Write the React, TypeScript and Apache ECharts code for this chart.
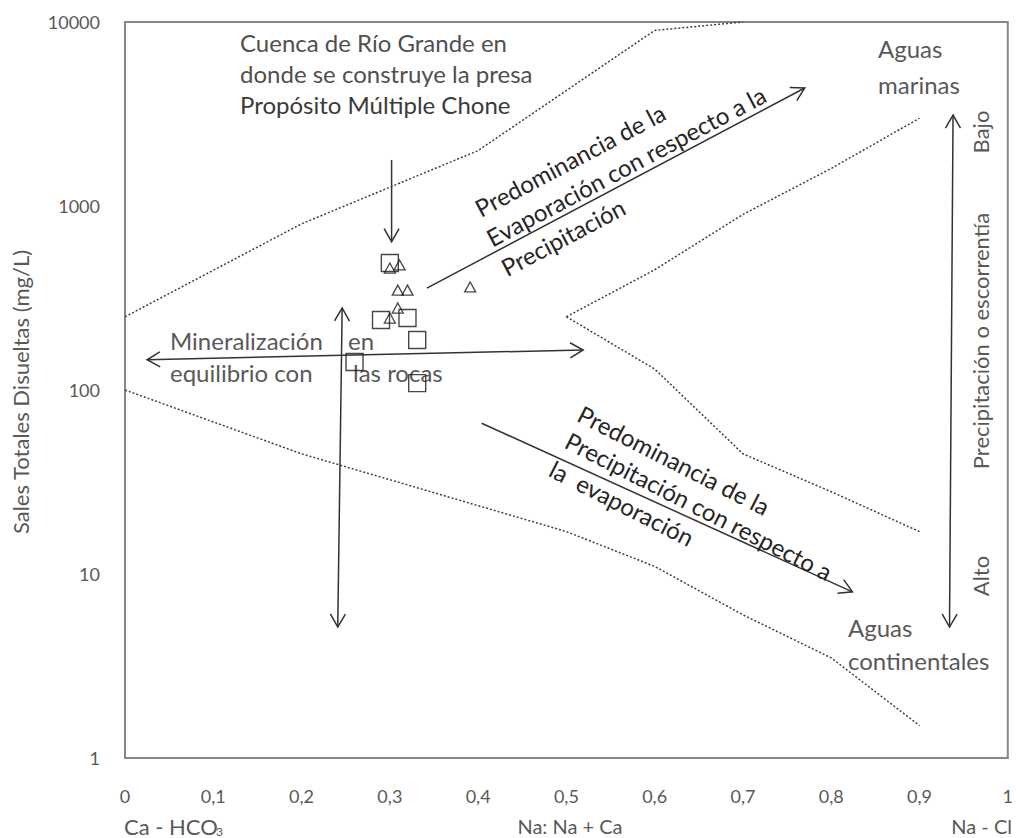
import React, { useEffect, useRef } from "react";
import * as echarts from "echarts";

// ---- data ----
const squareX = [0.3, 0.29, 0.32, 0.331, 0.26, 0.331];
const squareY = [490, 240, 246, 187, 142, 109];
const triX = [0.3, 0.311, 0.309, 0.32, 0.309, 0.3, 0.391];
const triY = [460, 478, 349, 349, 279, 246, 363];

const upperLeftX = [0, 0.2, 0.4, 0.6, 0.7];
const upperLeftY = [250, 800, 2000, 9000, 10000];
const upperRightX = [0.5, 0.6, 0.7, 0.8, 0.9];
const upperRightY = [250, 450, 900, 1600, 3000];
const lowerRightX = [0.5, 0.6, 0.7, 0.8, 0.9];
const lowerRightY = [250, 130, 45, 28, 17];
const lowerLeftX = [0, 0.2, 0.5, 0.6, 0.7, 0.8, 0.9];
const lowerLeftY = [100, 45, 17, 11, 6, 3.5, 1.5];

// annotation arrows in data coordinates
const arrowFromX = [0.302, 0.025, 0.246, 0.342, 0.404, 0.938];
const arrowFromY = [1780, 146, 279, 358, 66, 3120];
const arrowToX = [0.302, 0.519, 0.241, 0.77, 0.824, 0.934];
const arrowToY = [640, 165, 5.15, 4380, 8, 5.15];
const arrowBoth = [false, true, true, false, false, true];

const zip = (xs: number[], ys: number[]) => xs.map((x, i) => [x, ys[i]]);

const FONT = "Lato, 'Open Sans', sans-serif";
const GRAY = "#595959";
const DARK = "#262626";

export default function App() {
  const ref = useRef<HTMLDivElement>(null);
  useEffect(() => {
    if (!ref.current) return;
    const chart = echarts.init(ref.current, undefined, { renderer: "svg" });
    const dotted = {
      type: "line",
      symbol: "none",
      silent: true,
      lineStyle: { color: "#404040", width: 1.5, type: [2, 2] },
    };
    chart.setOption({
      animation: false,
      grid: {
        left: 125,
        top: 22,
        width: 883,
        height: 736,
        show: true,
        borderColor: "#868686",
        borderWidth: 2,
        containLabel: false,
      },
      xAxis: {
        type: "value",
        min: 0,
        max: 1,
        interval: 0.1,
        axisLine: { show: true, lineStyle: { color: "#868686", width: 2 } },
        axisTick: { show: false },
        splitLine: { show: false },
        axisLabel: {
          margin: 29,
          color: GRAY,
          fontSize: 18,
          fontFamily: FONT,
          formatter: (v: number) =>
            v === 0 ? "0" : v === 1 ? "1" : v.toFixed(1).replace(".", ","),
        },
      },
      yAxis: {
        type: "log",
        logBase: 10,
        min: 1,
        max: 10000,
        axisLine: { show: true, lineStyle: { color: "#868686", width: 2 } },
        axisTick: { show: false },
        splitLine: { show: false },
        axisLabel: {
          margin: 25,
          color: GRAY,
          fontSize: 18,
          fontFamily: FONT,
          formatter: (v: number) => String(Math.round(v)),
        },
      },
      series: [
        { ...dotted, data: zip(upperLeftX, upperLeftY) },
        { ...dotted, data: zip(upperRightX, upperRightY) },
        { ...dotted, data: zip(lowerRightX, lowerRightY) },
        { ...dotted, data: zip(lowerLeftX, lowerLeftY) },
        {
          type: "scatter",
          symbol: "rect",
          symbolSize: 17,
          itemStyle: { color: "rgba(0,0,0,0)", borderColor: "#1a1a1a", borderWidth: 1.4 },
          data: zip(squareX, squareY),
        },
        {
          type: "scatter",
          symbol: "triangle",
          symbolSize: [11, 10],
          itemStyle: { color: "rgba(0,0,0,0)", borderColor: "#1a1a1a", borderWidth: 1.3 },
          data: zip(triX, triY),
        },
      ],
    });

    const els: any[] = [];
    const head = (tip: number[], tail: number[], color: string) => {
      const dx = tip[0] - tail[0];
      const dy = tip[1] - tail[1];
      const len = Math.hypot(dx, dy);
      const bx = -dx / len;
      const by = -dy / len;
      const L = 15;
      const a = Math.PI / 6;
      const c = Math.cos(a);
      const s = Math.sin(a);
      const r1 = [bx * c - by * s, bx * s + by * c];
      const r2 = [bx * c + by * s, -bx * s + by * c];
      return {
        type: "polyline",
        silent: true,
        shape: {
          points: [
            [tip[0] + L * r1[0], tip[1] + L * r1[1]],
            [tip[0], tip[1]],
            [tip[0] + L * r2[0], tip[1] + L * r2[1]],
          ],
        },
        style: { stroke: color, lineWidth: 1.5, fill: "none" },
      };
    };
    arrowFromX.forEach((fx, i) => {
      const p1 = chart.convertToPixel({ gridIndex: 0 }, [fx, arrowFromY[i]]) as number[];
      const p2 = chart.convertToPixel({ gridIndex: 0 }, [arrowToX[i], arrowToY[i]]) as number[];
      const color = "#333333";
      els.push({
        type: "line",
        silent: true,
        shape: { x1: p1[0], y1: p1[1], x2: p2[0], y2: p2[1] },
        style: { stroke: color, lineWidth: 1.5 },
      });
      els.push(head(p2, p1, color));
      if (arrowBoth[i]) els.push(head(p1, p2, color));
    });

    const txt = (
      text: string,
      x: number,
      y: number,
      opts: { size?: number; color?: string; align?: string; rot?: number } = {}
    ) => ({
      type: "text",
      silent: true,
      x,
      y,
      rotation: opts.rot || 0,
      style: {
        text,
        fill: opts.color || GRAY,
        fontSize: opts.size || 24,
        fontFamily: FONT,
        textAlign: opts.align || "left",
        align: opts.align || "left",
        textVerticalAlign: "middle",
        verticalAlign: "middle",
      },
    });
    const evap = (28 * Math.PI) / 180;
    const prec = (-27 * Math.PI) / 180;
    const up = Math.PI / 2;
    els.push(
      txt("Cuenca de Río Grande en", 240, 42, { color: "#505050" }),
      txt("donde se construye la presa", 240, 73, { color: "#505050" }),
      txt("Propósito Múltiple Chone", 240, 104, { color: "#3a3a3a" }),
      txt("Mineralización", 170, 340),
      txt("en", 348, 340),
      txt("equilibrio con", 170, 372),
      txt("las rocas", 353, 372),
      txt("Predominancia de la", 570, 160, { color: DARK, align: "center", rot: evap }),
      txt("Evaporación con respecto a la", 626, 166, { color: DARK, align: "center", rot: evap }),
      txt("Precipitación", 563, 237, { color: DARK, align: "center", rot: evap }),
      txt("Predominancia de la", 674, 460, { color: DARK, align: "center", rot: prec }),
      txt("Precipitación con respecto a", 699, 506, { color: DARK, align: "center", rot: prec }),
      txt("la  evaporación", 622, 503, { color: DARK, align: "center", rot: prec }),
      txt("Aguas", 878, 48),
      txt("marinas", 878, 84),
      txt("Aguas", 848, 627),
      txt("continentales", 848, 660),
      txt("Bajo", 980, 132, { align: "center", rot: up, size: 22 }),
      txt("Precipitación o escorrentía", 980, 341, { align: "center", rot: up, size: 22 }),
      txt("Alto", 980, 576, { align: "center", rot: up, size: 22 }),
      txt("Sales Totales Disueltas (mg/L)", 20, 392, { align: "center", rot: up, size: 22 }),
      txt("Ca - HCO", 124, 826, { size: 22 }),
      txt("3", 216, 831, { size: 12 }),
      txt("Na: Na + Ca", 570, 826, { size: 20, align: "center" }),
      txt("Na - Cl", 1012, 826, { size: 20, align: "right" })
    );
    chart.setOption({ graphic: { elements: els } });

    return () => chart.dispose();
  }, []);
  return (
    <div
      ref={ref}
      style={{ position: "absolute", left: 0, top: 0, width: 1016, height: 838, background: "#fff" }}
    />
  );
}
